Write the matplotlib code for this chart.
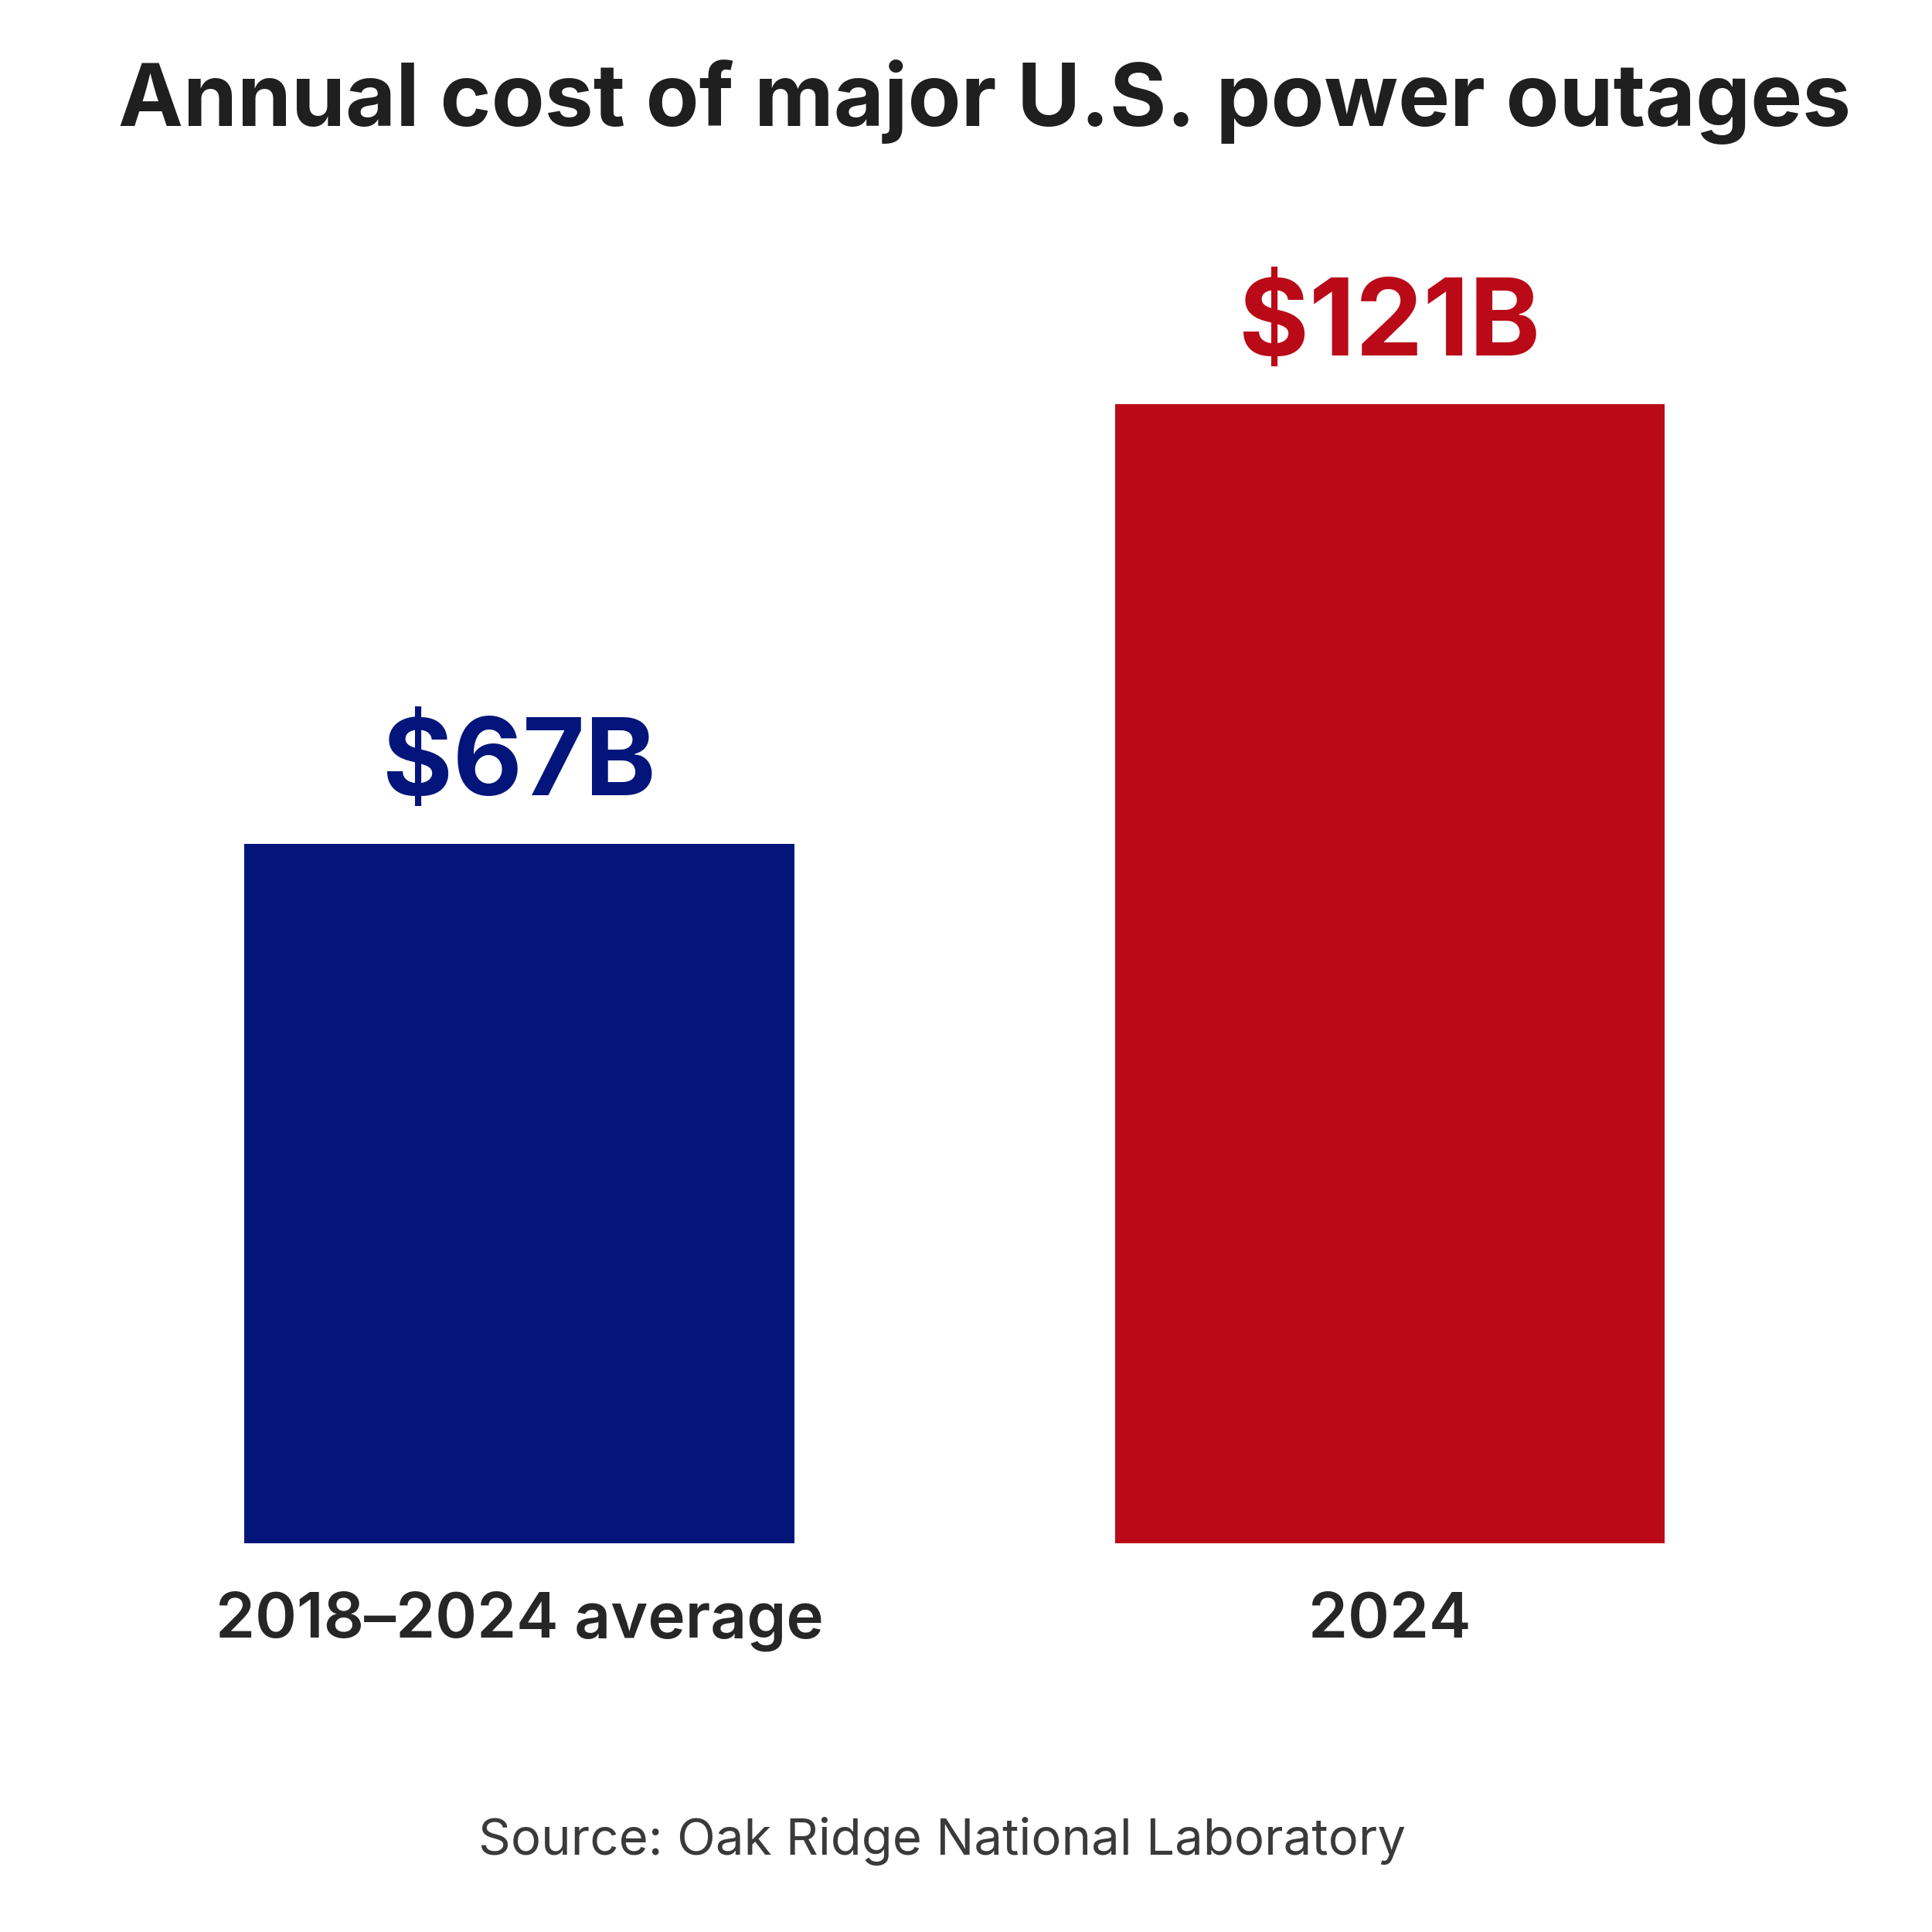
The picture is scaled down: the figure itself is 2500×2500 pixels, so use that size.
import numpy as np
import matplotlib

matplotlib.use('Agg')
import matplotlib.pyplot as plt
from matplotlib import transforms

plt.rcParams['font.family'] = ['Inter', 'DejaVu Sans']

categories = ["2018\u20132024 average", "2024"]
costs = np.array([67, 121])  # billions of dollars
value_labels = ["$67B", "$121B"]
bar_colors = ["#03157B", "#BA0A18"]

# the original bars are not drawn from zero; the baseline sits below it
base = -18.9


def draw_chart():
    fig = plt.figure(figsize=(25, 25), dpi=100)
    fig.patch.set_facecolor("white")
    ax = fig.add_axes([0, 503 / 2500, 1, 1997 / 2500])

    x = np.arange(len(categories))
    ax.bar(x, costs - base, bottom=base, width=0.632, color=bar_colors)
    ax.set_xlim(-0.597, 1.623)
    ax.set_ylim(base, 170.6)

    for xi, val, lab, col in zip(x, costs, value_labels, bar_colors):
        ax.annotate(lab, (xi, val), xytext=(0, 45), textcoords="offset points",
                    ha="center", va="baseline", fontsize=100, fontweight="bold", color=col)

    trans = transforms.blended_transform_factory(ax.transData, fig.transFigure)
    for xi, cat in zip(x, categories):
        ax.text(xi, 1 - 2098 / 2500, cat, transform=trans, ha="center", va="center",
                fontsize=59, fontweight="semibold", color="#262626")

    ax.axis("off")

    fig.text(0.5095, 1 - 132 / 2500, "Annual cost of major U.S. power outages",
             ha="center", va="center", fontsize=81, fontweight="bold", color="#1f1f1f")
    fig.text(0.4875, 1 - 2382 / 2500, "Source: Oak Ridge National Laboratory",
             ha="center", va="center", fontsize=47, color="#3a3a3a")

    plt.savefig("out.png", dpi=100, facecolor="white")


if __name__ == '__main__':
    draw_chart()
